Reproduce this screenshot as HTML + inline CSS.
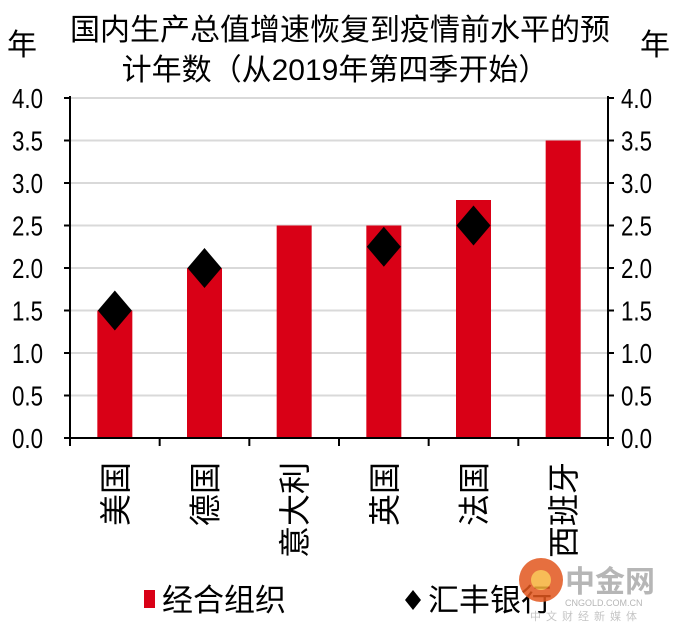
<!DOCTYPE html>
<html><head><meta charset="utf-8"><style>
body{margin:0;background:#fff;}
svg{display:block;font-family:"Liberation Sans Narrow","Liberation Sans","Noto Sans CJK SC",sans-serif;}
.cjk{font-family:"Liberation Sans","Noto Sans CJK SC",sans-serif;}
</style></head><body>
<svg id="c" width="674" height="627" xmlns="http://www.w3.org/2000/svg">
<text class="cjk" x="340" y="40" font-size="30" text-anchor="middle">国内生产总值增速恢复到疫情前水平的预</text>
<text class="cjk" x="335" y="80" font-size="30" text-anchor="middle">计年数（从2019年第四季开始）</text>
<text class="cjk" x="22" y="55" font-size="30" text-anchor="middle">年</text>
<text class="cjk" x="655" y="55" font-size="30" text-anchor="middle">年</text>
<g id="grid"></g><g id="bars"></g><g id="pts"></g><g id="axes"></g>
<g>
<rect x="144" y="590" width="11" height="18" fill="#d90016"/>
<text class="cjk" x="162" y="611" font-size="31">经合组织</text>
<polygon points="413,590 421,600 413,610 405,600" fill="#000"/>
<text class="cjk" x="428" y="611" font-size="31">汇丰银行</text>
</g>
<g opacity="0.85">
<circle cx="541" cy="580" r="22" fill="#e2571e"/>
<circle cx="541" cy="580" r="10" fill="#f6b13a"/>
<text class="cjk" x="565" y="592" font-size="30" font-weight="bold" fill="#aaa">中金网</text>
<text x="565" y="606" font-size="9" fill="#aaa">CNGOLD.COM.CN</text>
<text class="cjk" x="530" y="620" font-size="11" fill="#bbb" letter-spacing="5">中文财经新媒体</text>
</g>
</svg>
<script>
const categories=["美国","德国","意大利","英国","法国","西班牙"];
const oecdValues=[1.5,2.0,2.5,2.5,2.8,3.5];
const hsbcValues=[1.5,2.0,null,2.25,2.5,null];
const yTicks=[0,0.5,1,1.5,2,2.5,3,3.5,4];
const yTickLabels=["0.0","0.5","1.0","1.5","2.0","2.5","3.0","3.5","4.0"];
const NS="http://www.w3.org/2000/svg";
const L=70,R=608,T=98,B=438,yMax=4;
const y=v=>B-(v/yMax)*(B-T);
const bw=(R-L)/categories.length;
const x=i=>L+bw*(i+0.5);
function mk(tag,attrs,parent){const e=document.createElementNS(NS,tag);for(const k in attrs)e.setAttribute(k,attrs[k]);document.getElementById(parent).appendChild(e);return e;}
yTicks.forEach((t,i)=>{
 if(t>0){const g=mk('line',{x1:L,x2:R,y1:y(t),y2:y(t),stroke:'#d9d9d9','stroke-width':2},'grid');
 
 }
 const a=mk('text',{x:12,y:y(t)+10,'font-size':28,textLength:31,lengthAdjust:'spacingAndGlyphs'},'axes');a.textContent=yTickLabels[i];
 
 
 const b=mk('text',{x:R+13,y:y(t)+10,'font-size':28,textLength:31,lengthAdjust:'spacingAndGlyphs'},'axes');b.textContent=yTickLabels[i];
 
 
 mk('line',{x1:L-6,x2:L,y1:y(t),y2:y(t),stroke:'#000','stroke-width':2},'axes');
 mk('line',{x1:R,x2:R+6,y1:y(t),y2:y(t),stroke:'#000','stroke-width':2},'axes');
});
categories.forEach((c,i)=>{
 const r=mk('rect',{x:x(i)-17.5,y:y(oecdValues[i]),width:35,height:B-y(oecdValues[i]),fill:'#d90016'},'bars');
 
 
 if(hsbcValues[i]!=null){const cx=x(i),cy=y(hsbcValues[i]);
  const p=mk('polygon',{points:`${cx},${cy-20} ${cx+17},${cy} ${cx},${cy+20} ${cx-17},${cy}`,fill:'#000'},'pts');
  
  }
 const t=mk('text',{class:'cjk','font-size':32,'text-anchor':'end',transform:`translate(${x(i)+12},462) rotate(-90)`},'axes');
 t.textContent=c;
 
 
});
for(let i=0;i<=categories.length;i++)mk('line',{x1:L+bw*i,x2:L+bw*i,y1:B,y2:B+8,stroke:'#000','stroke-width':2},'axes');
mk('line',{x1:L,x2:L,y1:T-2,y2:B,stroke:'#000','stroke-width':2},'axes');
mk('line',{x1:R,x2:R,y1:T-2,y2:B,stroke:'#000','stroke-width':2},'axes');
mk('line',{x1:L-6,x2:R+6,y1:B,y2:B,stroke:'#000','stroke-width':2},'axes');
</script>
</body></html>
